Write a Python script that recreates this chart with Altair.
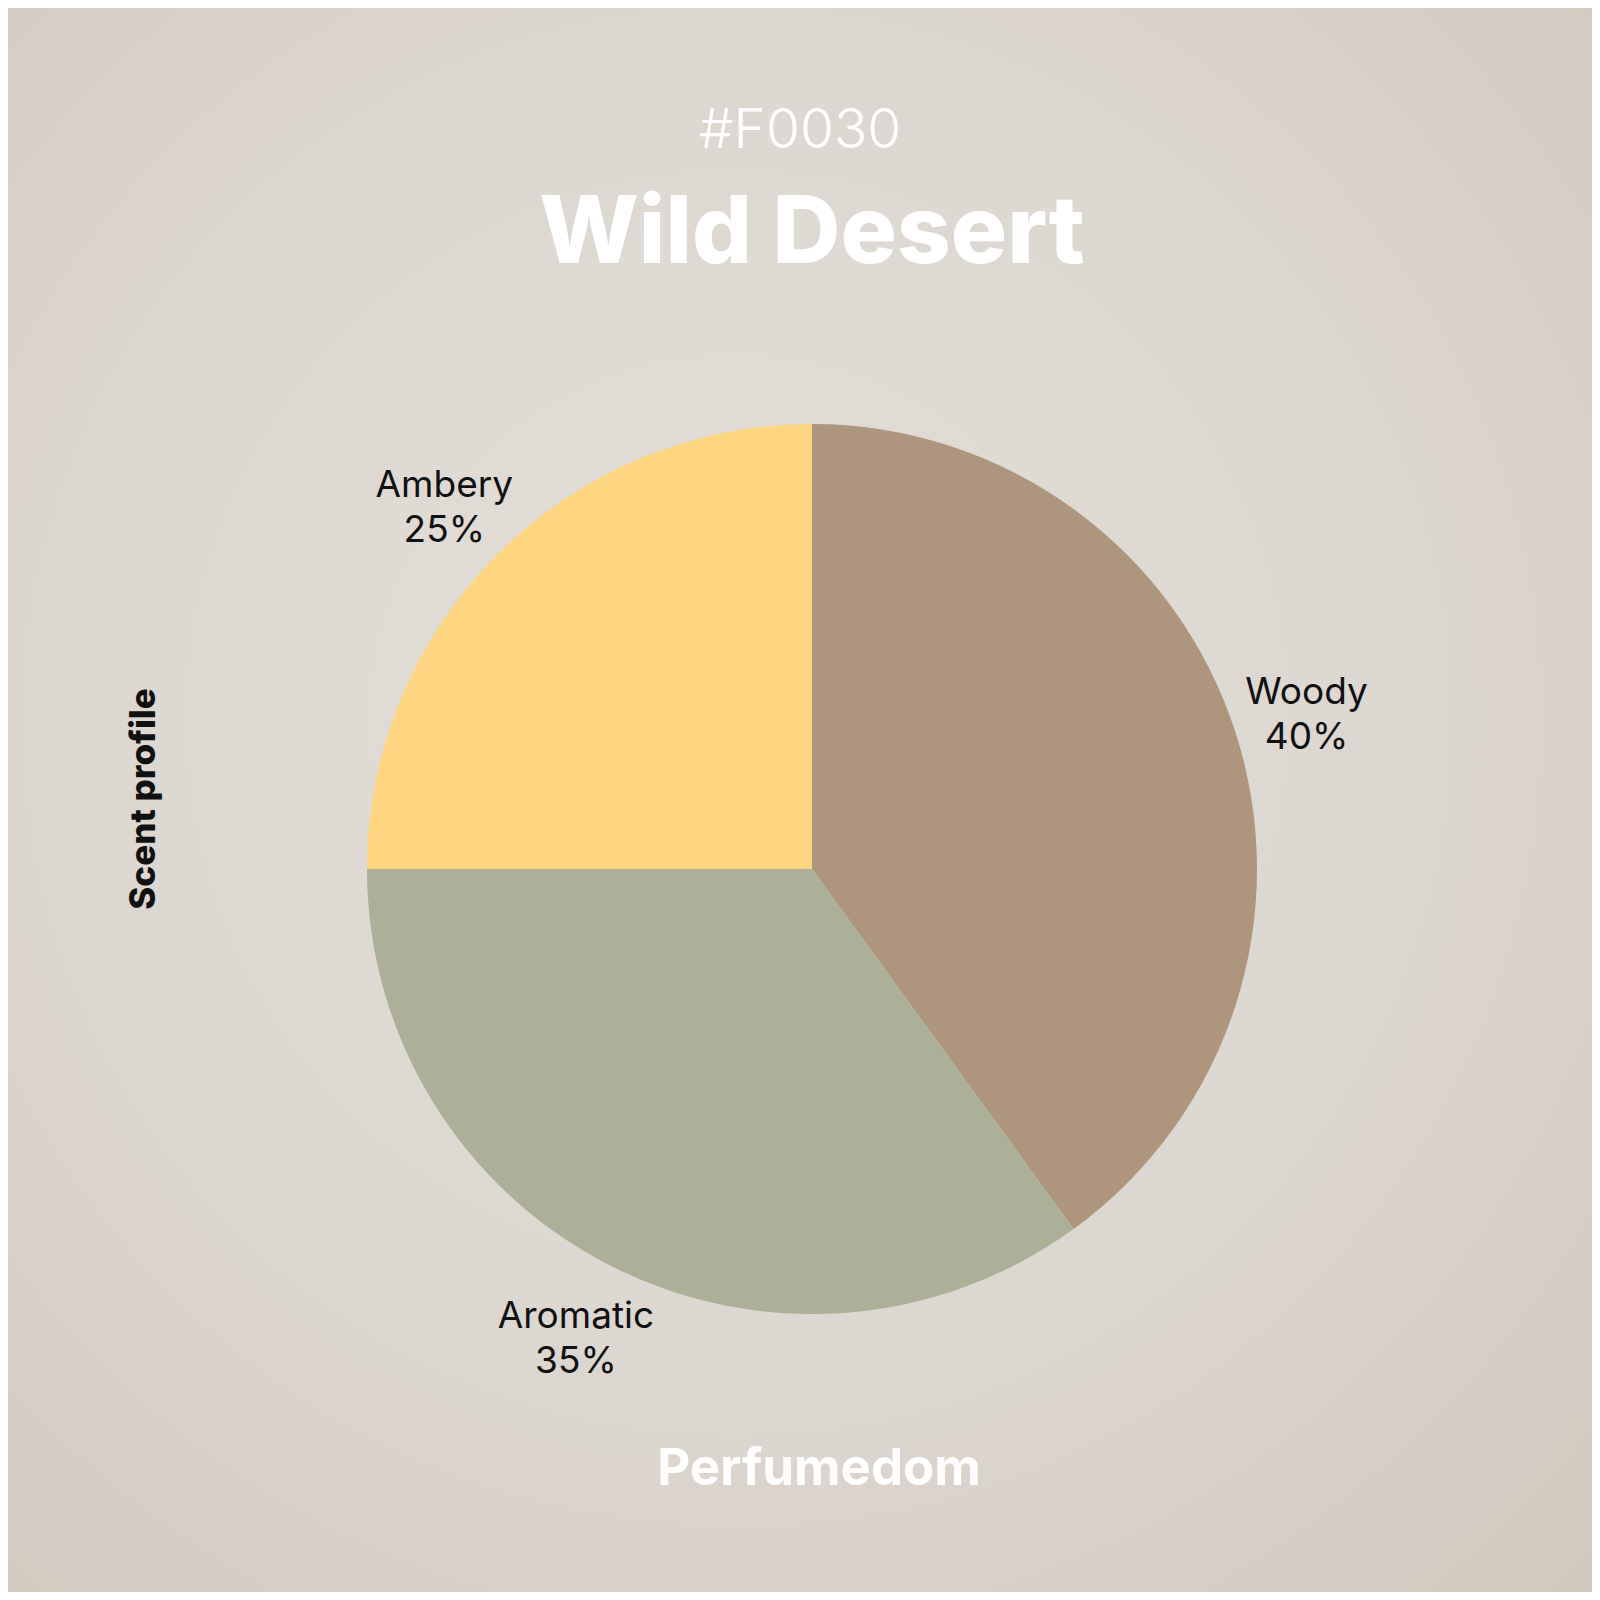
import altair as alt
import pandas as pd

# ---- data ----
categories = ["Woody", "Aromatic", "Ambery"]
shares = [40, 35, 25]
slice_colors = ["#AD967D", "#ADB098", "#FED681"]

code_text = "#F0030"
title_text = "Wild Desert"
side_text = "Scent profile"
footer_text = "Perfumedom"

FONT = "Inter"
W = H = 1584
CX, CY = 804, 861
R = 445
LR = 520

df = pd.DataFrame({
    "category": categories,
    "share": shares,
    "order": list(range(len(categories))),
    "label": [f"{c}\n{v}%" for c, v in zip(categories, shares)],
})

bg = alt.Chart(pd.DataFrame({"a": [0]})).mark_rect(
    color=alt.RadialGradient(
        gradient="radial",
        stops=[
            alt.GradientStop(color="#e4dfda", offset=0),
            alt.GradientStop(color="#dcd6d0", offset=0.55),
            alt.GradientStop(color="#d1c7bc", offset=1),
        ],
        x1=0.46, y1=0.45, r1=0, x2=0.46, y2=0.45, r2=0.8,
    )
).encode(x=alt.value(0), x2=alt.value(W), y=alt.value(0), y2=alt.value(H))

base = alt.Chart(df).encode(
    theta=alt.Theta("share:Q", stack=True),
    order=alt.Order("order:Q"),
)

pie = base.mark_arc(radius=R, stroke=None).encode(
    color=alt.Color("category:N", scale=alt.Scale(domain=categories, range=slice_colors), legend=None),
    x=alt.value(CX), y=alt.value(CY),
)

labels = base.mark_text(
    radius=LR, font=FONT, fontSize=37, color="#111111", lineBreak="\n",
    lineHeight=45, align="center", baseline="middle", dy=-15,
).encode(text="label:N", x=alt.value(CX), y=alt.value(CY))

one = pd.DataFrame({"a": [0]})

code = alt.Chart(one).mark_text(
    text=code_text, font=FONT, fontSize=55, fontWeight=300, color="#ffffff",
    align="center", baseline="alphabetic",
).encode(x=alt.value(792), y=alt.value(140))

title = alt.Chart(one).mark_text(
    text=title_text, font=FONT, fontSize=94, fontWeight=800, color="#ffffff",
    align="center", baseline="alphabetic",
).encode(x=alt.value(804), y=alt.value(255))

side = alt.Chart(one).mark_text(
    text=side_text, font=FONT, fontSize=35, fontWeight=800, color="#111111",
    align="center", baseline="alphabetic", angle=270,
).encode(x=alt.value(147), y=alt.value(791))

footer = alt.Chart(one).mark_text(
    text=footer_text, font=FONT, fontSize=51, fontWeight=700, color="#ffffff",
    align="center", baseline="alphabetic",
).encode(x=alt.value(811), y=alt.value(1477))

chart = alt.layer(bg, pie, labels, code, title, side, footer).properties(
    width=W, height=H,
    autosize=alt.AutoSizeParams(type="none"),
    padding=0,
    background="#d9d2cb",
).configure_view(stroke=None)

chart.save("out.html", embed_options={"renderer": "svg", "actions": False})
